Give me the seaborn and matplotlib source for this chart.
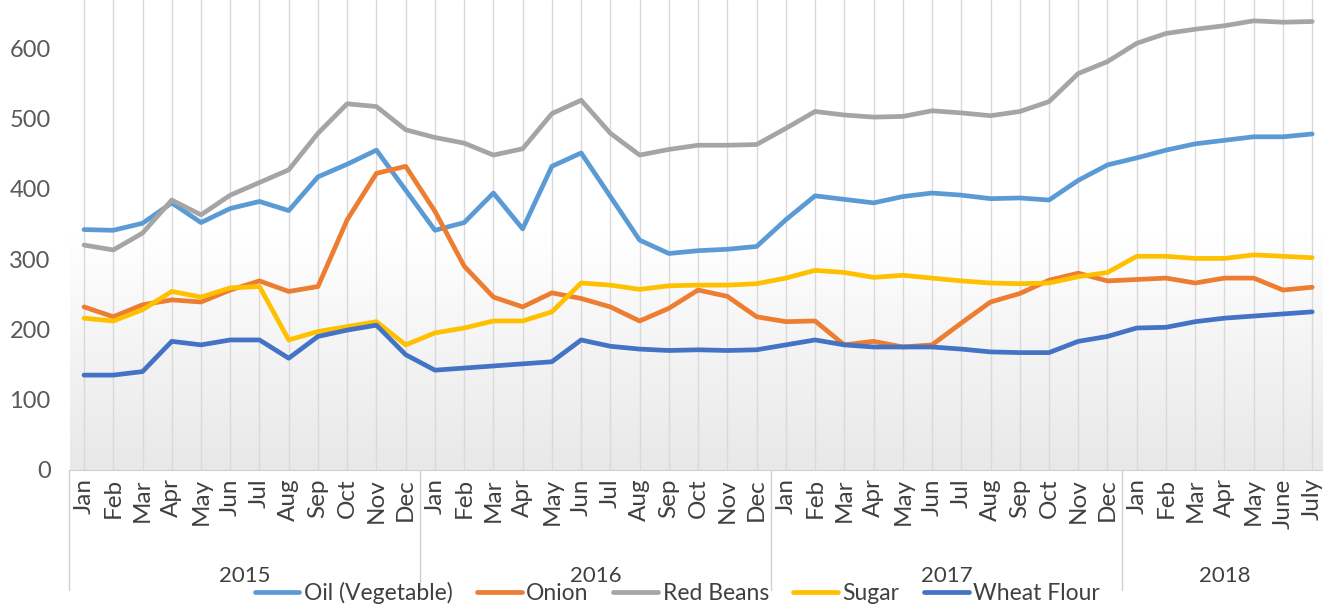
import numpy as np
import pandas as pd
import matplotlib as mpl
import matplotlib.pyplot as plt
import matplotlib.transforms as mtransforms
from matplotlib.colors import LinearSegmentedColormap
import seaborn as sns

months = (["Jan", "Feb", "Mar", "Apr", "May", "Jun", "Jul", "Aug", "Sep", "Oct", "Nov", "Dec"] * 3
          + ["Jan", "Feb", "Mar", "Apr", "May", "June", "July"])
years = ["2015", "2016", "2017", "2018"]
year_len = [12, 12, 12, 7]

oil = [342, 341, 351, 380, 352, 372, 382, 369, 417, 435, 455, 398,
       341, 352, 394, 343, 432, 451, 389, 327, 308, 312, 314, 318,
       356, 390, 385, 380, 389, 394, 391, 386, 387, 384, 412, 434,
       444, 455, 464, 469, 474, 474, 478]
onion = [232, 218, 235, 242, 239, 256, 269, 254, 261, 356, 422, 432,
         368, 290, 246, 232, 252, 244, 232, 212, 230, 256, 247, 218,
         211, 212, 178, 183, 175, 178, 209, 239, 251, 270, 280, 269,
         271, 273, 266, 273, 273, 256, 260]
red_beans = [320, 313, 337, 384, 363, 391, 409, 427, 479, 521, 517, 484,
             473, 465, 448, 457, 507, 526, 479, 448, 456, 462, 462, 463,
             486, 510, 505, 502, 503, 511, 508, 504, 510, 524, 564, 581,
             607, 621, 627, 632, 639, 637, 638]
sugar = [216, 212, 228, 254, 246, 259, 261, 185, 197, 204, 211, 178,
         195, 202, 212, 212, 225, 266, 263, 257, 262, 263, 263, 265,
         273, 284, 281, 274, 277, 273, 269, 266, 265, 266, 275, 281,
         304, 304, 301, 301, 306, 304, 302]
wheat_flour = [135, 135, 140, 183, 178, 185, 185, 159, 190, 199, 206, 164,
               142, 145, 148, 151, 154, 185, 176, 172, 170, 171, 170, 171,
               178, 185, 178, 175, 175, 175, 172, 168, 167, 167, 183, 190,
               202, 203, 211, 216, 219, 222, 225]

series = {"Oil (Vegetable)": oil, "Onion": onion, "Red Beans": red_beans,
          "Sugar": sugar, "Wheat Flour": wheat_flour}
colors = ["#5B9BD5", "#ED7D31", "#A5A5A5", "#FFC000", "#4472C4"]

idx = np.arange(len(months))
df = pd.concat([pd.DataFrame({"i": idx, "price": v, "item": k}) for k, v in series.items()])

sns.set_style("white")
plt.rcParams["font.family"] = ["Lato", "DejaVu Sans"]

fig = plt.figure(figsize=(13.23, 6.04), dpi=100)
ax = fig.add_axes([70 / 1323, 134 / 604, 1 - 70 / 1323, 470 / 604])

xlim = (-0.48, 42.37)
ylim = (0, 668.6)

# gradient plot area background
cmap = LinearSegmentedColormap.from_list("bg", ["#ffffff", "#ffffff", "#e8e8e8"])
ax.imshow(np.linspace(0, 1, 256).reshape(-1, 1), cmap=cmap, aspect="auto",
          extent=(xlim[0], xlim[1], ylim[0], ylim[1]), zorder=0)

sns.lineplot(data=df, x="i", y="price", hue="item", palette=colors, linewidth=3.4,
             ax=ax, legend=True, zorder=3, solid_joinstyle="round", solid_capstyle="round")

ax.set_xlim(*xlim)
ax.set_ylim(*ylim)
ax.set_xlabel("")
ax.set_ylabel("")

ax.set_xticks(idx)
ax.set_xticklabels(months, rotation=90, fontsize=17.5, color="#404040")
ax.set_yticks(range(0, 700, 100))
ax.tick_params(axis="y", labelsize=17, labelcolor="#595959", length=0, pad=14)
ax.tick_params(axis="x", length=0, pad=6)
ax.grid(axis="x", color="#d9d9d9", linewidth=1, zorder=1)
ax.set_axisbelow(True)
for s in ["top", "right", "left"]:
    ax.spines[s].set_visible(False)
ax.spines["bottom"].set_color("#d0d0d0")

# year groups under the month labels
trans = mtransforms.blended_transform_factory(ax.transData, ax.transAxes)
start = 0
bounds = [-0.5]
for yr, n in zip(years, year_len):
    ax.text(start + (n - 1) / 2, -0.225, yr, transform=trans, ha="center", va="center",
            fontsize=16, color="#404040")
    start += n
    bounds.append(start - 0.5)
for b in bounds[:-1]:
    ax.plot([b, b], [0, -0.255], transform=trans, color="#d0d0d0", linewidth=1, clip_on=False)

handles, labels = ax.get_legend_handles_labels()
ax.get_legend().remove()
for h in handles:
    h.set_linewidth(3.4)
fig.legend(handles, labels, loc="center", bbox_to_anchor=(0.512, 0.018), ncol=5,
           frameon=False, fontsize=16.5, handlelength=1.95, handletextpad=0.2,
           columnspacing=1.07, labelcolor="#404040")

fig.savefig("out.png", dpi=100)
